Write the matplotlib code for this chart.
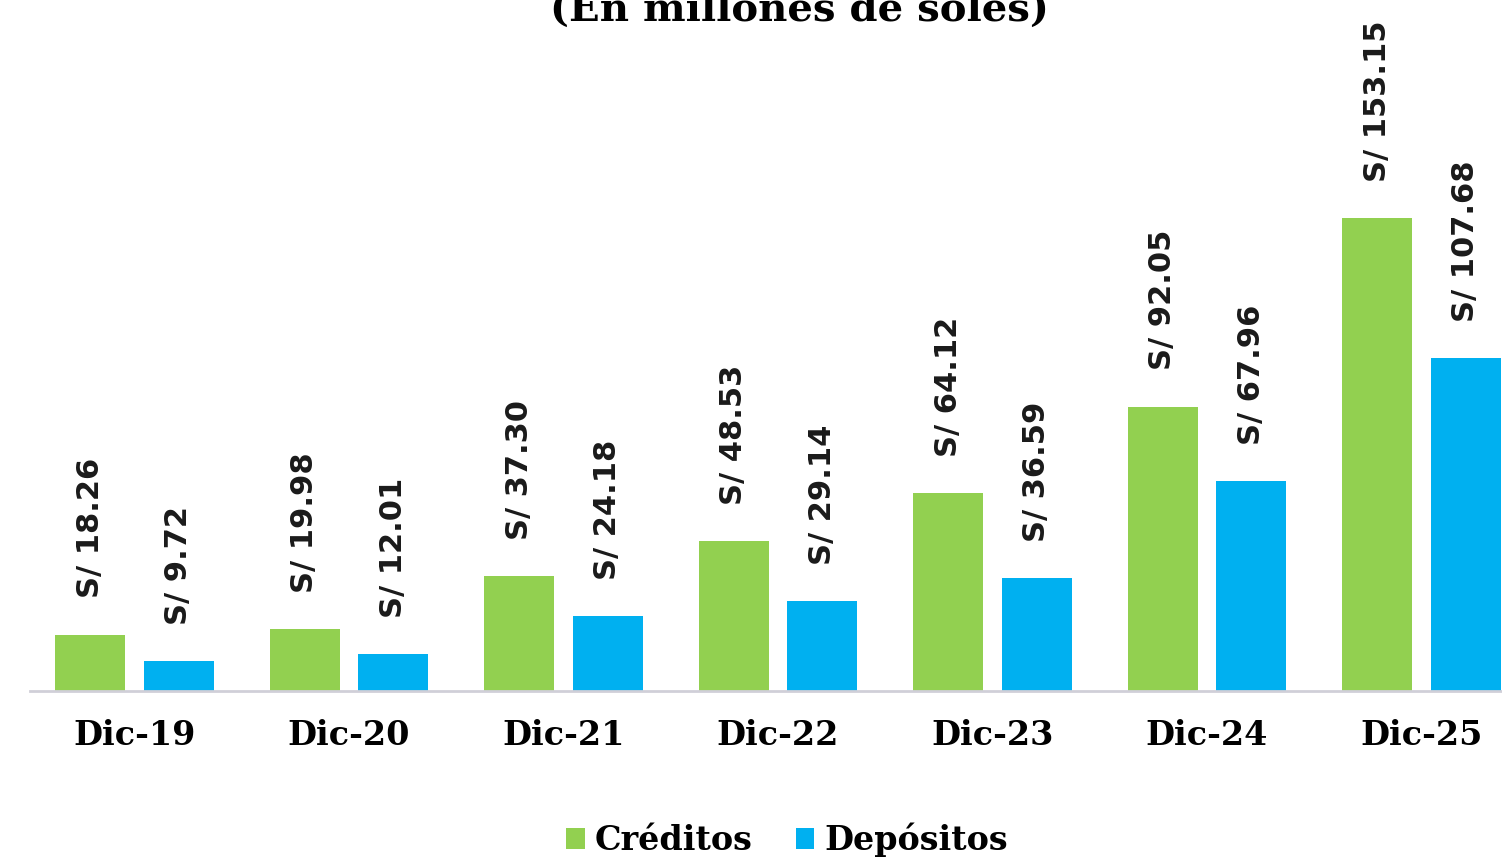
import matplotlib
matplotlib.use("Agg")
import matplotlib.pyplot as plt
import numpy as np

categories = ["Dic-19", "Dic-20", "Dic-21", "Dic-22", "Dic-23", "Dic-24", "Dic-25"]
creditos = [18.26, 19.98, 37.30, 48.53, 64.12, 92.05, 153.15]
depositos = [9.72, 12.01, 24.18, 29.14, 36.59, 67.96, 107.68]
series_names = ["Créditos", "Depósitos"]
title = "(En millones de soles)"

green = "#92D050"
blue = "#00B0F0"

fig = plt.figure(figsize=(15.02, 8.63), dpi=100)
ax = fig.add_axes([30/1502, (863-691)/863, 1 - 30/1502, 691/863])

x = np.arange(len(categories))
off = 0.207
w = 0.326
b1 = ax.bar(x - off, creditos, w, color=green, label=series_names[0])
b2 = ax.bar(x + off, depositos, w, color=blue, label=series_names[1])

for bars, vals in ((b1, creditos), (b2, depositos)):
    for bar, v in zip(bars, vals):
        ax.annotate(f"S/ {v:.2f}", (bar.get_x() + bar.get_width()/2, v),
                    xytext=(0, 26), textcoords="offset points",
                    rotation=90, ha="center", va="bottom",
                    fontsize=22, fontweight="bold", family="DejaVu Sans",
                    color="#1a1a1a")

ax.set_xlim(-0.487, 6.375)
ax.set_ylim(0, 691/3.09)
for s in ["top", "right", "left"]:
    ax.spines[s].set_visible(False)
ax.spines["bottom"].set_color("#D0CFD8")
ax.spines["bottom"].set_linewidth(2)
ax.set_yticks([])
ax.set_xticks(x)
ax.set_xticklabels(categories, fontsize=24, fontweight="bold", family="DejaVu Serif")
ax.tick_params(axis="x", length=0, pad=20)

fig.text(0.532, 1 - 21/863, title, ha="center", va="baseline",
         fontsize=29, fontweight="bold", family="DejaVu Serif")

leg = fig.legend(handles=[b1, b2], labels=series_names, loc="center",
                 bbox_to_anchor=(0.524, 1 - 840/863), ncol=2, frameon=False,
                 prop={"family": "DejaVu Serif", "weight": "bold", "size": 24},
                 handlelength=0.55, handleheight=0.55, handletextpad=0.3,
                 columnspacing=1.3)

fig.savefig("out.png", dpi=100, facecolor="white")
